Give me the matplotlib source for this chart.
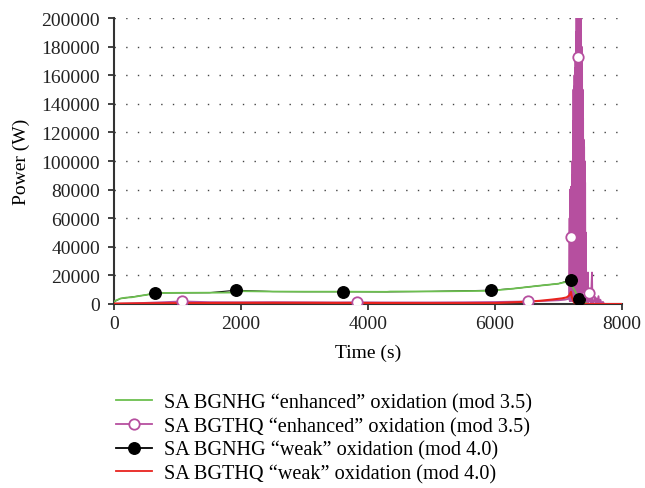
import matplotlib
matplotlib.use("Agg")
import matplotlib.pyplot as plt
from matplotlib.lines import Line2D

plt.rcParams["font.family"] = ["Liberation Serif", "DejaVu Serif"]

# --- series data -------------------------------------------------------
green_t = [0, 30, 60, 100, 150, 200, 280, 350, 420, 500, 580, 646, 700, 1000,
           1500, 1900, 1921, 2500, 3000, 3611, 4300, 4350, 5000, 5932, 6300,
           6700, 7000, 7192, 7205, 7328, 7420, 7460, 8000]
green_p = [1500, 2500, 3000, 3800, 4200, 4500, 4700, 5200, 5800, 6300, 7000,
           7600, 7700, 7800, 7900, 8000, 9000, 8700, 8600, 8600, 8500, 8700,
           8800, 9200, 10800, 12800, 14200, 16200, 13500, 3500, 800, 0, 0]

black_t = [0, 100, 300, 500, 646, 1000, 1500, 1921, 2500, 3000, 3611, 4300,
           5000, 5932, 6300, 6700, 7000, 7192, 7205, 7328, 7420, 7460, 8000]
black_p = [1500, 3800, 5000, 6300, 7700, 7800, 7900, 9600, 8700, 8600, 8600,
           8500, 8800, 9600, 10800, 12800, 14200, 16800, 13500, 3300, 800, 0, 0]
black_marks = [4, 7, 10, 13, 17, 19]

red_t = [0, 500, 1000, 2000, 3000, 4000, 5000, 6000, 6500, 6700, 6900, 7050,
         7128, 7170, 7197, 7210, 7240, 7265, 8000]
red_p = [300, 500, 600, 800, 800, 700, 600, 600, 1600, 2200, 3100, 3900,
         4600, 6000, 8500, 5000, 1500, 0, 0]

magenta_t = [0, 200, 500, 800, 1066, 1500, 2000, 2500, 3000, 3500, 3822,
             4200, 5000, 5500, 6000, 6525, 6800, 7000, 7100, 7150, 7170,
             7175, 7178, 7181, 7184, 7187, 7190, 7192, 7196, 7200, 7204,
             7208, 7212, 7216, 7220, 7224, 7228, 7232, 7236, 7240, 7244,
             7248, 7252, 7256, 7260, 7264, 7268, 7272, 7276, 7280, 7284,
             7288, 7292, 7296, 7300, 7304, 7308, 7312, 7316, 7320, 7324,
             7328, 7332, 7336, 7340, 7344, 7348, 7352, 7356, 7360, 7364,
             7368, 7372, 7376, 7380, 7384, 7388, 7392, 7396, 7400, 7404,
             7408, 7412, 7416, 7420, 7425, 7430, 7440, 7448, 7455, 7465,
             7470, 7475, 7490, 7510, 7528, 7535, 7560, 7575, 7585, 7600,
             7615, 7630, 7645, 7660, 7680, 7700, 7720, 8000]
magenta_p = [0, 300, 800, 1300, 1800, 1300, 1200, 1300, 1200, 1100, 1200,
             1100, 1100, 1200, 1400, 1800, 2200, 2600, 3000, 3500, 5000,
             60000, 2000, 80000, 3000, 75000, 2000, 47000, 82000, 4000, 70000,
             3000, 90000, 2000, 100000, 3000, 128000, 2000, 150000, 3000, 152000,
             4000, 160000, 3000, 165000, 2000, 175000, 3000, 190000, 4000, 240000,
             3000, 250000, 5000, 260000, 4000, 250000, 173000, 240000, 5000, 230000,
             4000, 245000, 6000, 220000, 5000, 210000, 4000, 205000, 8000, 180000,
             6000, 168000, 10000, 150000, 8000, 130000, 20000, 115000, 12000, 110000,
             30000, 100000, 3000, 85000, 2000, 50000, 1000, 3000, 500, 22000,
             1000, 7700, 3000, 1000, 22000, 500, 2000, 5000, 500, 4000,
             300, 5500, 500, 3000, 200, 1500, 0, 0]
magenta_marks = [4, 10, 15, 27, 57, 92]

xticks = [0, 2000, 4000, 6000, 8000]
yticks = [0, 20000, 40000, 60000, 80000, 100000, 120000, 140000, 160000,
          180000, 200000]

labels = ["SA BGNHG \u201cenhanced\u201d oxidation (mod 3.5)",
          "SA BGTHQ \u201cenhanced\u201d oxidation (mod 3.5)",
          "SA BGNHG \u201cweak\u201d oxidation (mod 4.0)",
          "SA BGTHQ \u201cweak\u201d oxidation (mod 4.0)"]

GREEN = "#6cbf4f"
MAGENTA = "#b64f9f"
RED = "#e8231f"
FS = 14
LFS = 14.6

fig = plt.figure(figsize=(6.45, 4.89), dpi=100)
ax = fig.add_axes([0.1767, 0.3763, 0.7876, 0.5848])

ax.plot(black_t, black_p, color="black", lw=0.8, zorder=2)
ax.plot(magenta_t, magenta_p, color=MAGENTA, lw=1.3, zorder=3)
ax.plot(green_t, green_p, color=GREEN, lw=1.3, zorder=4)
ax.plot(red_t, red_p, color=RED, lw=1.5, zorder=5)
ax.plot(black_t, black_p, ls="none", marker="o", ms=8.3, color="black",
        markevery=black_marks, zorder=6)
ax.plot(magenta_t, magenta_p, ls="none", marker="o", ms=7.5,
        markerfacecolor="white", markeredgecolor=MAGENTA, mew=1.3,
        markevery=magenta_marks, zorder=7)

ax.set_xlim(0, 8000)
ax.set_ylim(0, 200000)
ax.set_xticks(xticks)
ax.set_yticks(yticks)
ax.tick_params(labelsize=FS, direction="out", length=4, width=1.2,
               colors="#222222")
ax.tick_params(axis="y", pad=6)
ax.tick_params(axis="x", pad=4)
ax.yaxis.grid(True, color="#444444", lw=1.0, ls=(0, (1, 7.4)))
ax.set_axisbelow(True)
for s in ("top", "right"):
    ax.spines[s].set_visible(False)
for s in ("left", "bottom"):
    ax.spines[s].set_color("#333333")
    ax.spines[s].set_linewidth(1.5)

ax.set_xlabel("Time (s)", fontsize=FS, labelpad=8)
ax.set_ylabel("Power (W)", fontsize=FS, labelpad=8)

handles = [
    Line2D([], [], color=GREEN, lw=1.3),
    Line2D([], [], color=MAGENTA, lw=1.3, marker="o", ms=7.5,
           markerfacecolor="white", markeredgecolor=MAGENTA, mew=1.3),
    Line2D([], [], color="black", lw=1.3, marker="o", ms=8.3),
    Line2D([], [], color=RED, lw=1.3),
]
fig.legend(handles, labels, loc="upper left",
           bbox_to_anchor=(0.168, 1 - 386 / 489), frameon=False,
           fontsize=LFS, handlelength=1.75, handletextpad=0.6,
           labelspacing=0.22, borderaxespad=0)

fig.savefig("out.png", dpi=100)
